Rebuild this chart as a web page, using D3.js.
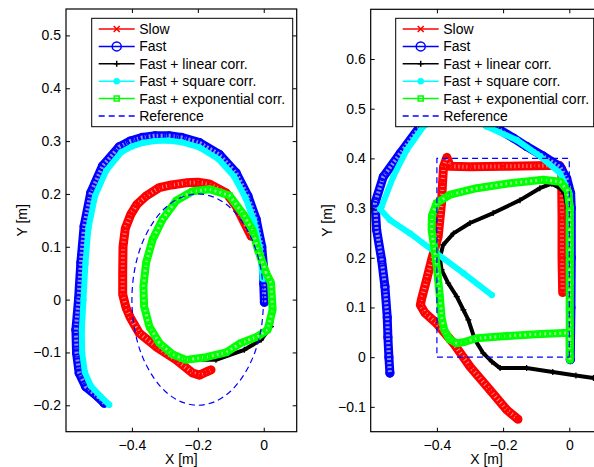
<!DOCTYPE html>
<html>
<head>
<meta charset="utf-8">
<script src="https://cdn.jsdelivr.net/npm/d3@7"></script>
<style>
  body { margin: 0; background: #fff; }
  svg { display: block; font-family: "Liberation Sans", Arial, sans-serif; }
</style>
</head>
<body>
<div id="chart"></div>
<script>
// tick values
var leftXTicks = [-0.4, -0.2, 0];
var leftYTicks = [-0.2, -0.1, 0, 0.1, 0.2, 0.3, 0.4, 0.5];
var rightXTicks = [-0.4, -0.2, 0];
var rightYTicks = [-0.1, 0, 0.1, 0.2, 0.3, 0.4, 0.5, 0.6];

var seriesNames = ["Slow", "Fast", "Fast + linear corr.", "Fast + square corr.",
  "Fast + exponential corr.", "Reference"];

// left panel: circle trajectory, [x, y] in metres
var leftSlow = [[-0.038,0.12],[-0.059,0.146],[-0.084,0.177],[-0.114,0.202],[-0.165,0.219],
  [-0.2,0.222],[-0.236,0.221],[-0.28,0.217],[-0.317,0.212],[-0.357,0.196],[-0.385,0.18],
  [-0.403,0.162],[-0.42,0.135],[-0.427,0.1],[-0.428,0.05],[-0.428,0.01],[-0.418,-0.015],
  [-0.405,-0.034],[-0.378,-0.063],[-0.327,-0.089],[-0.266,-0.114],[-0.216,-0.139],
  [-0.195,-0.143],[-0.175,-0.137],[-0.16,-0.133]];
var leftFast = [[0.002,-0.005],[0.0,0.03],[0.0,0.057],[-0.006,0.1],[-0.023,0.152],
  [-0.048,0.196],[-0.084,0.24],[-0.135,0.275],[-0.195,0.297],[-0.25,0.307],[-0.287,0.31],
  [-0.33,0.31],[-0.368,0.307],[-0.405,0.3],[-0.439,0.289],[-0.489,0.253],[-0.525,0.202],
  [-0.545,0.139],[-0.555,0.07],[-0.562,0],[-0.57,-0.057],[-0.568,-0.101],[-0.56,-0.139],
  [-0.54,-0.165],[-0.505,-0.183],[-0.484,-0.196]];
var leftLinear = [[0.007,0.051],[-0.018,0.095],[-0.033,0.13],[-0.06,0.16],[-0.104,0.197],
  [-0.165,0.209],[-0.216,0.205],[-0.266,0.187],[-0.307,0.152],[-0.337,0.114],[-0.357,0.07],
  [-0.365,0.025],[-0.363,-0.013],[-0.347,-0.051],[-0.317,-0.082],[-0.276,-0.104],
  [-0.236,-0.114],[-0.145,-0.114],[-0.059,-0.095],[-0.008,-0.076],[0.022,-0.051],
  [0.027,-0.019],[0.022,0.032]];
var leftSquare = [[-0.003,0.04],[-0.013,0.1],[-0.03,0.15],[-0.055,0.192],[-0.09,0.233],
  [-0.138,0.266],[-0.195,0.288],[-0.25,0.298],[-0.29,0.301],[-0.33,0.3],[-0.365,0.297],
  [-0.4,0.29],[-0.432,0.279],[-0.478,0.244],[-0.512,0.196],[-0.532,0.135],[-0.541,0.068],
  [-0.547,0],[-0.552,-0.057],[-0.551,-0.1],[-0.543,-0.137],[-0.525,-0.163],[-0.495,-0.183],
  [-0.469,-0.199]];
var leftExp = [[0.007,0.051],[-0.018,0.095],[-0.033,0.13],[-0.06,0.16],[-0.104,0.197],
  [-0.165,0.209],[-0.216,0.205],[-0.266,0.187],[-0.307,0.152],[-0.337,0.114],[-0.357,0.07],
  [-0.365,0.025],[-0.363,-0.013],[-0.347,-0.051],[-0.317,-0.082],[-0.276,-0.104],
  [-0.236,-0.114],[-0.175,-0.109],[-0.114,-0.1],[-0.069,-0.082],[-0.019,-0.07],
  [0.012,-0.057],[0.027,-0.019],[0.022,0.032],[0.007,0.051]];
var leftRef = [[0,0],[-0.007,0.052],[-0.027,0.1],[-0.059,0.141],[-0.1,0.173],[-0.148,0.193],
  [-0.2,0.2],[-0.252,0.193],[-0.3,0.173],[-0.341,0.141],[-0.373,0.1],[-0.393,0.052],
  [-0.4,0],[-0.393,-0.052],[-0.373,-0.1],[-0.341,-0.141],[-0.3,-0.173],[-0.252,-0.193],
  [-0.2,-0.2],[-0.148,-0.193],[-0.1,-0.173],[-0.059,-0.141],[-0.027,-0.1],[-0.007,-0.052],
  [0,0]];

// right panel: square trajectory
var rightSlow = [[-0.02,0.13],[-0.022,0.2],[-0.022,0.28],[-0.023,0.35],[-0.022,0.378],
  [-0.03,0.386],[-0.1,0.385],[-0.2,0.384],[-0.3,0.383],[-0.36,0.384],[-0.37,0.402],
  [-0.38,0.383],[-0.383,0.35],[-0.386,0.31],[-0.396,0.243],[-0.416,0.196],[-0.431,0.156],
  [-0.446,0.118],[-0.45,0.105],[-0.436,0.089],[-0.401,0.068],[-0.35,0.028],[-0.3,-0.019],
  [-0.24,-0.066],[-0.189,-0.106],[-0.155,-0.125]];
var rightFast = [[0.003,-0.005],[0.005,0.1],[0.006,0.2],[0.006,0.3],[0.004,0.33],
  [-0.008,0.36],[-0.028,0.383],[-0.08,0.405],[-0.129,0.424],[-0.169,0.441],[-0.209,0.457],
  [-0.26,0.49],[-0.33,0.52],[-0.4,0.5],[-0.451,0.464],[-0.511,0.41],[-0.562,0.363],
  [-0.587,0.31],[-0.582,0.256],[-0.567,0.196],[-0.557,0.142],[-0.55,0.08],[-0.548,0.04],
  [-0.545,0.0],[-0.542,-0.032]];
var rightLinear = [[0.0,0.0],[0.0,0.1],[-0.003,0.2],[-0.005,0.3],[-0.015,0.33],[-0.028,0.34],
  [-0.053,0.349],[-0.089,0.34],[-0.149,0.316],[-0.23,0.29],[-0.3,0.27],[-0.35,0.249],
  [-0.381,0.226],[-0.391,0.2],[-0.386,0.176],[-0.366,0.149],[-0.34,0.122],[-0.32,0.095],
  [-0.305,0.075],[-0.285,0.035],[-0.26,0.008],[-0.234,-0.009],[-0.209,-0.022],
  [-0.129,-0.022],[-0.05,-0.03],[0.02,-0.037],[0.073,-0.042],[0.1,-0.045]];
var rightSquare = [[0.003,0.0],[0.004,0.15],[0.004,0.3],[0.0,0.33],[-0.028,0.37],
  [-0.09,0.405],[-0.159,0.437],[-0.25,0.464],[-0.3,0.49],[-0.38,0.49],[-0.441,0.464],
  [-0.491,0.417],[-0.532,0.363],[-0.567,0.303],[-0.572,0.298],[-0.542,0.276],
  [-0.481,0.249],[-0.401,0.209],[-0.32,0.169],[-0.234,0.125]];
var rightExp = [[0.002,-0.005],[0.0,0.049],[-0.1,0.046],[-0.2,0.042],[-0.28,0.038],
  [-0.32,0.03],[-0.34,0.028],[-0.362,0.036],[-0.378,0.055],[-0.386,0.08],[-0.391,0.122],
  [-0.4,0.18],[-0.408,0.22],[-0.416,0.256],[-0.415,0.285],[-0.401,0.31],[-0.36,0.327],
  [-0.28,0.34],[-0.179,0.35],[-0.079,0.357],[-0.028,0.353],[-0.005,0.335],[0.001,0.303],
  [0.001,0.2],[0.001,0.1],[0.002,0.02]];
var rightRef = [[0,0],[0,0.4],[-0.4,0.4],[-0.4,0],[0,0]];

// drawing styles, in series order
var styles = [
  { color: "#ff0000", marker: "x", band: 9, tex: "1,3" },
  { color: "#0000ff", marker: "o", band: 9, tex: "2,2" },
  { color: "#000000", marker: "+", band: 4 },
  { color: "#00ffff", marker: ".", band: 6 },
  { color: "#00ff00", marker: "s", band: 8, tex: "2,3" },
  { color: "#0000ff", marker: null, dash: "6,4" },
];

var panels = [
  { id: "l", left: 66, right: 296.7, top: 9, bottom: 431.7,
    xDom: [-0.6, 0.1], yDom: [-0.25, 0.55], xTicks: leftXTicks, yTicks: leftYTicks,
    series: [leftSlow, leftFast, leftLinear, leftSquare, leftExp, leftRef],
    smoothRef: true, legend: { x: 91.7, y: 18.3, w: 201, h: 108.4 } },
  { id: "r", left: 370.7, right: 602.4, top: 9.3, bottom: 431.7,
    xDom: [-0.6, 0.1], yDom: [-0.15, 0.7], xTicks: rightXTicks, yTicks: rightYTicks,
    series: [rightSlow, rightFast, rightLinear, rightSquare, rightExp, rightRef],
    smoothRef: false, legend: { x: 395.7, y: 18.3, w: 198, h: 108.4 } },
];

var fmt = function (d) {
  return d === 0 ? "0" : d3.format(".1f")(d);
};

function markerPath(m) {
  if (m === "x") return "M-3,-3L3,3M-3,3L3,-3";
  if (m === "+") return "M-3,0L3,0M0,-3L0,3";
  if (m === "s") return "M-2.5,-2.5h5v5h-5z";
  if (m === "o") return "M4,0A4,4 0 1,1 -4,0A4,4 0 1,1 4,0Z";
  if (m === ".") return "M2.5,0A2.5,2.5 0 1,1 -2.5,0A2.5,2.5 0 1,1 2.5,0Z";
  return null;
}

function drawMarkers(g, pts, st, x, y) {
  g.selectAll(null)
    .data(pts)
    .enter()
    .append("path")
    .attr("transform", (d) => "translate(" + x(d[0]) + "," + y(d[1]) + ")")
    .attr("d", markerPath(st.marker))
    .attr("fill", st.marker === "." ? st.color : "none")
    .attr("stroke", st.color)
    .attr("stroke-width", st.marker === "o" ? 1.2 : 1.3);
}

var svg = d3
  .select("#chart")
  .append("svg")
  .attr("width", 594)
  .attr("height", 467);

svg.append("rect").attr("width", 594).attr("height", 467).attr("fill", "#fff");

panels.forEach(function (p) {
  var x = d3.scaleLinear().domain(p.xDom).range([p.left, p.right]);
  var y = d3.scaleLinear().domain(p.yDom).range([p.bottom, p.top]);

  svg
    .append("clipPath")
    .attr("id", "clip-" + p.id)
    .append("rect")
    .attr("x", p.left)
    .attr("y", p.top)
    .attr("width", p.right - p.left)
    .attr("height", p.bottom - p.top);

  var plot = svg.append("g").attr("clip-path", "url(#clip-" + p.id + ")");

  p.series.forEach(function (pts, i) {
    var st = styles[i];
    var g = plot.append("g");
    var line = d3
      .line()
      .x((d) => x(d[0]))
      .y((d) => y(d[1]))
      .curve(i === 5 && p.smoothRef ? d3.curveCatmullRom : d3.curveLinear);

    if (st.marker) {
      // dense markers in the original merge into a band
      g.append("path")
        .attr("d", line(pts))
        .attr("fill", "none")
        .attr("stroke", st.color)
        .attr("stroke-width", st.band)
        .attr("stroke-linejoin", "round")
        .attr("stroke-linecap", "round");
      if (st.tex) {
        g.append("path")
          .attr("d", line(pts))
          .attr("fill", "none")
          .attr("stroke", "#fff")
          .attr("stroke-opacity", 0.55)
          .attr("stroke-width", st.band - 5)
          .attr("stroke-dasharray", st.tex);
      }
      drawMarkers(g, pts, st, x, y);
    } else {
      g.append("path")
        .attr("d", line(pts))
        .attr("fill", "none")
        .attr("stroke", st.color)
        .attr("stroke-width", 1.2)
        .attr("stroke-dasharray", st.dash);
    }
  });

  // axes box with inward ticks on all sides
  var axes = svg.append("g");
  axes
    .append("g")
    .attr("transform", "translate(0," + p.bottom + ")")
    .call(d3.axisBottom(x).tickValues(p.xTicks).tickFormat(fmt).tickSizeInner(-4).tickSizeOuter(0).tickPadding(8));
  axes
    .append("g")
    .attr("transform", "translate(0," + p.top + ")")
    .call(d3.axisTop(x).tickValues(p.xTicks).tickFormat("").tickSizeInner(-4).tickSizeOuter(0));
  axes
    .append("g")
    .attr("transform", "translate(" + p.left + ",0)")
    .call(d3.axisLeft(y).tickValues(p.yTicks).tickFormat(fmt).tickSizeInner(-4).tickSizeOuter(0).tickPadding(5));
  axes
    .append("g")
    .attr("transform", "translate(" + p.right + ",0)")
    .call(d3.axisRight(y).tickValues(p.yTicks).tickFormat("").tickSizeInner(-4).tickSizeOuter(0));
  axes.selectAll(".domain").remove();
  axes
    .selectAll("text")
    .attr("fill", "#000")
    .attr("font-size", 14)
    .attr("font-family", "Liberation Sans, Arial, sans-serif");
  axes.selectAll("line").attr("stroke", "#000");

  svg
    .append("rect")
    .attr("x", p.left)
    .attr("y", p.top)
    .attr("width", p.right - p.left)
    .attr("height", p.bottom - p.top)
    .attr("fill", "none")
    .attr("stroke", "#000")
    .attr("stroke-width", 1.2);

  // axis labels
  svg
    .append("text")
    .attr("x", (p.left + p.right) / 2)
    .attr("y", 464)
    .attr("text-anchor", "middle")
    .attr("font-size", 14)
    .text("X [m]");
  svg
    .append("text")
    .attr("transform", "translate(" + (p.left - 39) + "," + (p.top + p.bottom) / 2 + ") rotate(-90)")
    .attr("text-anchor", "middle")
    .attr("font-size", 14)
    .text("Y [m]");

  // legend
  var L = p.legend;
  var leg = svg.append("g");
  leg
    .append("rect")
    .attr("x", L.x)
    .attr("y", L.y)
    .attr("width", L.w)
    .attr("height", L.h)
    .attr("fill", "#fff")
    .attr("stroke", "#000")
    .attr("stroke-width", 1);
  seriesNames.forEach(function (name, i) {
    var st = styles[i];
    var ry = L.y + 10.7 + i * 17.4;
    leg
      .append("line")
      .attr("x1", L.x + 7)
      .attr("x2", L.x + 43)
      .attr("y1", ry)
      .attr("y2", ry)
      .attr("stroke", st.color)
      .attr("stroke-width", 1.5)
      .attr("stroke-dasharray", st.dash ? "6,4" : null);
    if (st.marker) {
      leg
        .append("path")
        .attr("transform", "translate(" + (L.x + 25) + "," + ry + ")")
        .attr("d", st.marker === "o" ? "M4.5,0A4.5,4.5 0 1,1 -4.5,0A4.5,4.5 0 1,1 4.5,0Z" : markerPath(st.marker))
        .attr("fill", st.marker === "." ? st.color : "none")
        .attr("stroke", st.color)
        .attr("stroke-width", 1.5);
    }
    leg
      .append("text")
      .attr("x", L.x + 47.5)
      .attr("y", ry)
      .attr("dy", "0.35em")
      .attr("font-size", 14)
      .text(name);
  });
});
</script>
</body>
</html>
